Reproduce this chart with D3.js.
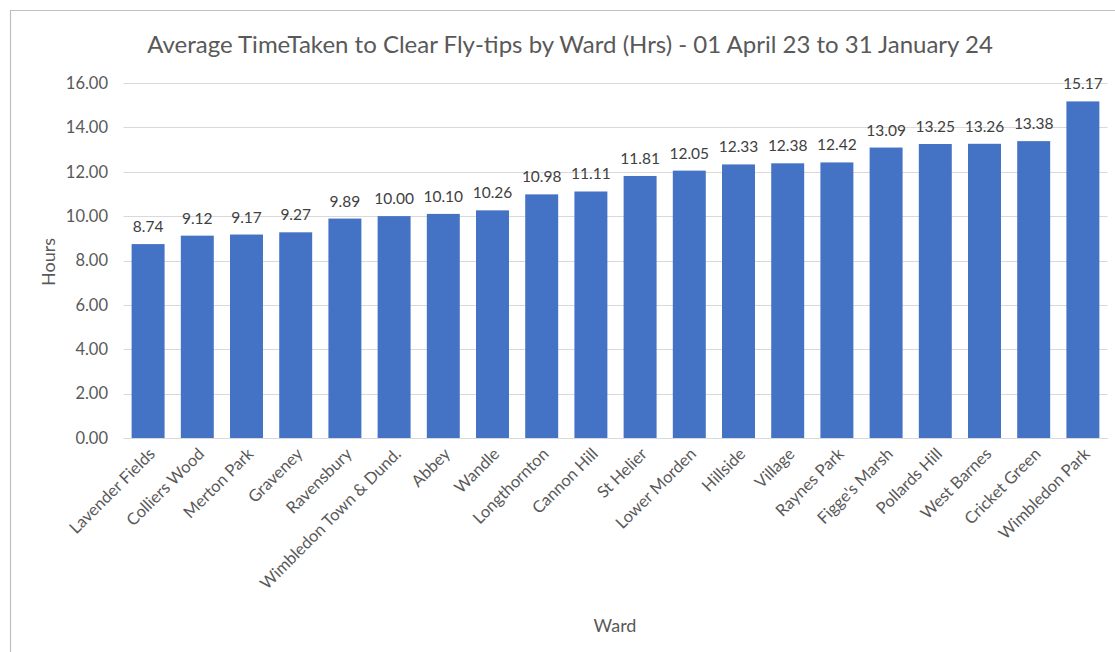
<!DOCTYPE html>
<html><head><meta charset="utf-8">
<script src="https://cdn.jsdelivr.net/npm/d3@7"></script>
<style>body{margin:0;background:#fff;}svg{display:block;font-family:Lato,"Open Sans",sans-serif;}</style>
</head><body>
<svg id="c" width="1115" height="652"></svg>
<script>
const wards = ["Lavender Fields","Colliers Wood","Merton Park","Graveney","Ravensbury","Wimbledon Town & Dund.","Abbey","Wandle","Longthornton","Cannon Hill","St Helier","Lower Morden","Hillside","Village","Raynes Park","Figge's Marsh","Pollards Hill","West Barnes","Cricket Green","Wimbledon Park"];
const hours = [8.74,9.12,9.17,9.27,9.89,10.00,10.10,10.26,10.98,11.11,11.81,12.05,12.33,12.38,12.42,13.09,13.25,13.26,13.38,15.17];
const yTicks = [0,2,4,6,8,10,12,14,16];
const title = "Average TimeTaken to Clear Fly-tips by Ward (Hrs) - 01 April 23 to 31 January 24";

const svg = d3.select("#c");
const grey = "#595959";
// chart border
svg.append("path").attr("d","M1115,10.5 H10.5 V652").attr("fill","none").attr("stroke","#bfbfbf").attr("stroke-width",1.2);

const x = d3.scaleBand().domain(wards).range([123.5,1107.5]).paddingInner(0.33).paddingOuter(0.165);
const y = d3.scaleLinear().domain([0,16]).range([438,83]);

// gridlines
svg.append("g").selectAll("line").data(yTicks).join("line")
  .attr("x1",123.5).attr("x2",1107.5).attr("y1",d=>Math.round(y(d))+0.5).attr("y2",d=>Math.round(y(d))+0.5)
  .attr("stroke","#d9d9d9").attr("stroke-width",1);

// y axis labels
const ya = svg.append("g").attr("transform","translate(108,0)").call(d3.axisLeft(y).tickValues(yTicks).tickFormat(d3.format(".2f")).tickSize(0).tickPadding(0));
ya.select(".domain").remove();
ya.selectAll("text").attr("fill",grey).attr("font-size",16.5).attr("font-family","Lato,'Open Sans',sans-serif");

// bars
svg.append("g").selectAll("rect").data(hours).join("rect")
  .attr("x",(d,i)=>x(wards[i])).attr("width",x.bandwidth())
  .attr("y",d=>y(d)).attr("height",d=>y(0)-y(d)).attr("fill","#4472c4");

// value labels
svg.append("g").selectAll("text").data(hours).join("text")
  .attr("x",(d,i)=>x(wards[i])+x.bandwidth()/2).attr("y",d=>y(d)-12)
  .attr("text-anchor","middle").attr("fill","#404040").attr("font-size",15.5).text(d=>d.toFixed(2));

// x axis
const xa = svg.append("g").attr("transform","translate(0,438)").call(d3.axisBottom(x).tickSize(0).tickPadding(0));
xa.select(".domain").attr("stroke","#d9d9d9").attr("d","M123.5,0.5H1107.5");
xa.selectAll("text").attr("fill",grey).attr("font-size",16.5).attr("font-family","Lato,'Open Sans',sans-serif")
  .attr("text-anchor","end").attr("dy",0).attr("transform","translate(8,17) rotate(-45)");

// title
svg.append("text").attr("x",570).attr("y",53).attr("text-anchor","middle").attr("fill",grey).attr("font-size",24).text(title);
// axis titles
svg.append("text").attr("transform","translate(55,262) rotate(-90)").attr("text-anchor","middle").attr("fill",grey).attr("font-size",18).text("Hours");
svg.append("text").attr("x",615).attr("y",632).attr("text-anchor","middle").attr("fill",grey).attr("font-size",18).text("Ward");
</script>
</body></html>
